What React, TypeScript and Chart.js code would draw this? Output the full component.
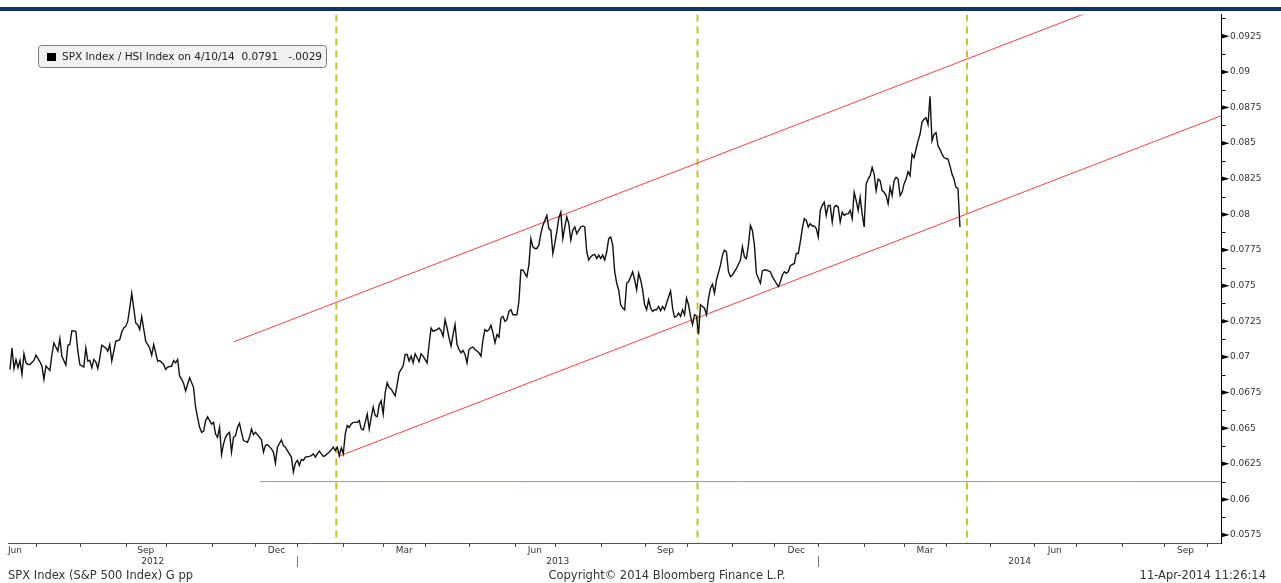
import React, { useEffect, useRef } from 'react';
import { Chart, registerables } from 'chart.js';

Chart.register(...registerables);

// Weekday index counted from Fri 1-Jun-2012 (index 0)
const dayIndex = [
  8, 9, 10, 11, 12, 13, 14, 15, 16, 17, 18, 20, 21, 23, 24, 25, 26, 28, 29, 30, 32, 33, 34, 36, 37, 38, 39, 41, 42, 43,
  45, 46, 47, 48, 49, 50, 51, 52, 53, 54, 56, 57, 58, 59, 61, 62, 63, 64, 65, 66, 67, 68, 69, 71, 72, 73, 74, 76, 77, 78,
  79, 80, 81, 82, 83, 85, 86, 87, 89, 90, 91, 92, 93, 94, 95, 96, 97, 98, 100, 101, 102, 103, 104, 105, 106, 107, 109, 110, 111, 112,
  113, 114, 115, 116, 117, 118, 119, 120, 121, 122, 123, 124, 125, 127, 128, 129, 130, 131, 132, 134, 135, 136, 137, 139, 140, 141, 142, 144, 145, 146,
  147, 148, 149, 150, 151, 152, 153, 154, 155, 156, 158, 159, 160, 161, 162, 163, 165, 166, 167, 168, 170, 171, 172, 173,
  174, 175, 176, 177, 178, 179, 180, 182, 183, 184, 185, 186, 187, 188, 189, 190, 191, 192, 193, 194, 195, 196, 197, 198, 199, 201,
  202, 203, 204, 205, 206, 207, 208, 209, 210, 211, 212, 213, 214, 215, 217, 218, 219, 220, 222, 223, 224, 225, 226, 227, 228, 229,
  230, 231, 232, 233, 234, 235, 236, 237, 238, 239, 240, 241, 243, 244, 245, 246, 247, 248, 249, 250, 251, 252, 253, 254, 255, 256,
  257, 258, 259, 260, 261, 262, 263, 264, 265, 266, 267, 268, 269, 270, 271, 272, 273, 274, 275, 277, 278, 279, 280, 281, 282, 283,
  284, 285, 286, 287, 288, 289, 290, 291, 292, 293, 294, 295, 296, 297, 298, 299, 300, 301, 302, 303, 304, 305, 306, 307, 308, 309,
  310, 311, 312, 313, 314, 315, 316, 317, 318, 319, 320, 321, 322, 323, 324, 325, 326, 327, 328, 329, 330, 331, 332, 333, 334, 335,
  336, 337, 339, 340, 341, 342, 343, 344, 345, 346, 347, 348, 349, 350, 351, 352, 353,
  354, 355, 356, 357, 358, 359, 360, 361, 362, 364, 365, 366, 367, 368, 369, 370, 372, 374, 375, 376, 377, 378, 379, 380, 381, 382,
  384, 385, 386, 387, 389, 390, 392, 393, 394, 395, 396, 397, 398, 399, 401, 402, 403, 404, 405, 406, 407, 408, 409, 410, 411, 412,
  413, 414, 415, 416, 417, 418, 419, 420, 421, 422, 423, 424, 425, 426, 427, 428, 429, 430, 431, 432, 433, 434, 435, 436, 437, 438,
  439, 440, 441, 442, 443, 444, 445, 446, 447, 448, 449, 450, 451, 452, 453, 454, 455, 456, 457, 458, 459, 460, 461, 462, 463, 464,
  465, 466, 467, 468, 469, 470, 471, 472, 473, 474, 475, 476, 477, 478, 479, 480, 481, 482, 483, 484,
];

// SPX Index / HSI Index ratio
const ratio = [
  0.06912, 0.07063, 0.06919, 0.06982, 0.06924, 0.06975, 0.06878, 0.07022, 0.06959, 0.06947, 0.06947, 0.06975, 0.07012, 0.06966, 0.06936, 0.06843, 0.06936, 0.06905, 0.07017, 0.07098, 0.0704, 0.07128, 0.07005, 0.06943, 0.07082, 0.07087, 0.07184, 0.0718, 0.0704, 0.06947,
  0.06929, 0.07063, 0.06971, 0.06975, 0.06924, 0.06982, 0.06966, 0.06919, 0.06994, 0.07082, 0.07063, 0.0704, 0.07087, 0.06971, 0.0711, 0.07115, 0.07121, 0.07175, 0.07203, 0.07214, 0.07249, 0.07342, 0.07447, 0.07238, 0.07226, 0.07191, 0.07284, 0.0711, 0.07087, 0.07063,
  0.07012, 0.07087, 0.07028, 0.06971, 0.06975, 0.06947, 0.06912, 0.06929, 0.06936, 0.06975, 0.06959, 0.06982, 0.06866, 0.06843, 0.06813, 0.06761, 0.06808, 0.06854, 0.06785, 0.06645, 0.06576, 0.06506, 0.06471, 0.06478, 0.06552, 0.0658, 0.06529, 0.06541, 0.06459, 0.06436,
  0.06506, 0.06315, 0.0639, 0.06436, 0.06459, 0.06471, 0.06332, 0.06436, 0.06448, 0.06506, 0.06534, 0.06471, 0.06413, 0.06401, 0.06436, 0.06494, 0.06455, 0.06471, 0.06455, 0.06418, 0.06332, 0.06378, 0.06385, 0.06355, 0.06332, 0.06255, 0.06367, 0.06418, 0.06378, 0.06367,
  0.06343, 0.0632, 0.06297, 0.06192, 0.06255, 0.06274, 0.06239, 0.06281, 0.06274, 0.06297, 0.06302, 0.06308, 0.0632, 0.06297, 0.0632, 0.06339, 0.06302, 0.06308, 0.0632, 0.06332, 0.06367, 0.06343, 0.06367, 0.06308,
  0.06362, 0.06321, 0.0646, 0.06518, 0.06506, 0.0653, 0.06541, 0.06541, 0.06553, 0.06495, 0.06488, 0.06541, 0.06599, 0.06495, 0.06576, 0.06646, 0.06588, 0.06581, 0.06664, 0.06692, 0.06599, 0.0675, 0.0682, 0.06785, 0.06774, 0.06727,
  0.06808, 0.0689, 0.06913, 0.06936, 0.07017, 0.07017, 0.06971, 0.07006, 0.06959, 0.07022, 0.06994, 0.06966, 0.07022, 0.07006, 0.06959, 0.07087, 0.07203, 0.0718, 0.07192, 0.07203, 0.07185, 0.07145, 0.07261, 0.07203, 0.07134, 0.07076,
  0.07157, 0.07227, 0.07087, 0.07052, 0.07029, 0.07045, 0.07017, 0.06959, 0.07052, 0.07064, 0.07069, 0.07052, 0.07029, 0.07006, 0.07122, 0.07192, 0.0718, 0.07192, 0.07222, 0.07168, 0.07099, 0.07157, 0.07138, 0.07273, 0.07285, 0.0725,
  0.07261, 0.07319, 0.07331, 0.07296, 0.07296, 0.07296, 0.07389, 0.0761, 0.0761, 0.07587, 0.07563, 0.07645, 0.0783, 0.07772, 0.07761, 0.07761, 0.07784, 0.07865, 0.07923, 0.07993, 0.079, 0.07889, 0.07726, 0.07796, 0.07877, 0.07975,
  0.08016, 0.0783, 0.07912, 0.07982, 0.07935, 0.07819, 0.07889, 0.07912, 0.07865, 0.07889, 0.07912, 0.07919, 0.07912, 0.07738, 0.0768, 0.07703, 0.07714, 0.07719, 0.07691, 0.07714, 0.07691, 0.07714, 0.0768, 0.07738, 0.0783, 0.07842,
  0.07784, 0.07598, 0.07517, 0.0747, 0.07366, 0.07343, 0.07331, 0.07517, 0.07529, 0.07563, 0.07598, 0.0754, 0.0747, 0.07587, 0.0754, 0.0747, 0.07366, 0.07331, 0.07401, 0.07343, 0.07319, 0.07331, 0.07331, 0.07354, 0.07324, 0.07354,
  0.07331, 0.07378, 0.07463, 0.07343, 0.07278, 0.07285, 0.07308, 0.07285, 0.07331, 0.07296, 0.07412, 0.07366, 0.07285, 0.07227, 0.07296, 0.07285, 0.07157,
  0.07366, 0.07354, 0.07342, 0.07296, 0.07412, 0.07482, 0.0751, 0.07447, 0.0754, 0.07644, 0.07714, 0.07749, 0.07737, 0.07598, 0.07563, 0.07575, 0.07621, 0.07679, 0.07772, 0.07702, 0.0769, 0.07784, 0.07923, 0.07888, 0.07784, 0.07586,
  0.07517, 0.07603, 0.0761, 0.0761, 0.07598, 0.07563, 0.07517, 0.07493, 0.07528, 0.07575, 0.07598, 0.07587, 0.07598, 0.0764, 0.07656, 0.07726, 0.07726, 0.07807, 0.079, 0.0797, 0.07958, 0.07912, 0.07935, 0.07919, 0.07919, 0.079,
  0.07842, 0.08028, 0.08063, 0.08086, 0.07993, 0.08063, 0.08063, 0.07946, 0.08051, 0.08063, 0.08051, 0.07946, 0.08016, 0.07993, 0.08004, 0.08004, 0.08028, 0.0797, 0.08155, 0.08097, 0.08028, 0.08121, 0.08004, 0.07912, 0.08214, 0.08248,
  0.08272, 0.0833, 0.08283, 0.08167, 0.08248, 0.08237, 0.08167, 0.08155, 0.08132, 0.08074, 0.0819, 0.08132, 0.08237, 0.0826, 0.08248, 0.08132, 0.08155, 0.08214, 0.08248, 0.083, 0.08272, 0.08423, 0.08399, 0.08457, 0.08516, 0.08562,
  0.08648, 0.08667, 0.08678, 0.08632, 0.08829, 0.08516, 0.08562, 0.08574, 0.08481, 0.08457, 0.08423, 0.08399, 0.08392, 0.08388, 0.08341, 0.08283, 0.08248, 0.0819, 0.08183, 0.07912,
];

// Trend channel (red), support (green), event markers (olive dashed)
const upperChannelDays = [120, 614.8];
const upperChannelValues = [0.07105, 0.09778];
const lowerChannelDays = [172.6, 614.8];
const lowerChannelValues = [0.06302, 0.08692];
const supportDays = [133.3, 614.8];
const supportValues = [0.06125, 0.06125];
const eventDays = [171.5, 352.5, 487.5];

const yTickValues = [0.0575, 0.06, 0.0625, 0.065, 0.0675, 0.07, 0.0725, 0.075, 0.0775, 0.08, 0.0825, 0.085, 0.0875, 0.09, 0.0925];
const monthNames = ['Jan', 'Feb', 'Mar', 'Apr', 'May', 'Jun', 'Jul', 'Aug', 'Sep', 'Oct', 'Nov', 'Dec'];
const labelledMonths = [2, 5, 8, 11];
const yearLabels = ['2012', '2013', '2014'];

const X_MIN = 7;
const X_MAX = 614.8;
const Y_MIN = 0.056943;
const Y_MAX = 0.094034;

const legendText = 'SPX Index / HSI Index on 4/10/14  0.0791   -.0029';
const footerLeft = 'SPX Index (S&P 500 Index) G pp';
const footerCenter = 'Copyright\u00A9 2014 Bloomberg Finance L.P.';
const footerRight = '11-Apr-2014 11:26:14';

const FONT = '"DejaVu Sans", Verdana, sans-serif';

const ORIGIN = Date.UTC(2012, 5, 1);
function weekdayIndex(y: number, m: number, d: number): number {
  let count = 0;
  const end = Date.UTC(y, m, d);
  for (let t = ORIGIN; t < end; t += 86400000) {
    const wd = new Date(t).getUTCDay();
    if (wd !== 0 && wd !== 6) count++;
  }
  return count;
}

type MonthInfo = { y: number; m: number; start: number; end: number };
const months: MonthInfo[] = [];
for (let k = 0; k < 29; k++) {
  const y = 2012 + Math.floor((5 + k) / 12);
  const m = (5 + k) % 12;
  const ny = 2012 + Math.floor((6 + k) / 12);
  const nm = (6 + k) % 12;
  months.push({ y, m, start: weekdayIndex(y, m, 1), end: weekdayIndex(ny, nm, 1) });
}
const labelMonthInfo = months.filter((mi) => labelledMonths.includes(mi.m) && (mi.start + mi.end) / 2 < X_MAX);
const labelTickValues = labelMonthInfo.map((mi) => (mi.start + mi.end) / 2);
const labelTickTexts = labelMonthInfo.map((mi) => monthNames[mi.m]);

const decorPlugin = {
  id: 'bbgDecor',
  beforeDraw(chart: any) {
    const ctx = chart.ctx;
    ctx.save();
    ctx.fillStyle = '#ffffff';
    ctx.fillRect(0, 0, chart.width, chart.height);
    ctx.fillStyle = '#0c3566';
    ctx.fillRect(0, 7, chart.width, 4);
    ctx.restore();
  },
  afterDraw(chart: any) {
    const ctx = chart.ctx;
    const xs = chart.scales.x;
    const ys = chart.scales.y;
    const area = chart.chartArea;
    ctx.save();

    // y-axis arrow ticks and minor ticks
    const ax = Math.round(area.right) + 0.5;
    ctx.fillStyle = '#000';
    ctx.strokeStyle = '#000';
    ctx.lineWidth = 1;
    yTickValues.forEach((v) => {
      const py = ys.getPixelForValue(v);
      ctx.beginPath();
      ctx.moveTo(ax - 0.5, py - 2.5);
      ctx.lineTo(ax + 8, py);
      ctx.lineTo(ax - 0.5, py + 2.5);
      ctx.closePath();
      ctx.fill();
      const minor = v + 0.00125;
      if (minor < Y_MAX) {
        const my = Math.round(ys.getPixelForValue(minor)) + 0.5;
        ctx.beginPath();
        ctx.moveTo(ax, my);
        ctx.lineTo(ax + 4, my);
        ctx.stroke();
      }
    });

    // x-axis month ticks
    const by = Math.round(area.bottom);
    ctx.strokeStyle = '#444';
    months.forEach((mi) => {
      if (mi.start > X_MIN && mi.start < X_MAX) {
        const px = Math.round(xs.getPixelForValue(mi.start)) + 0.5;
        ctx.beginPath();
        ctx.moveTo(px, by);
        ctx.lineTo(px, by + 4);
        ctx.stroke();
      }
    });

    // year labels and separators
    ctx.font = '9px ' + FONT;
    ctx.fillStyle = '#333';
    ctx.textAlign = 'center';
    ctx.textBaseline = 'middle';
    yearLabels.forEach((yl) => {
      const y = parseInt(yl, 10);
      const s = Math.max(X_MIN, weekdayIndex(y, 0, 1));
      const e = Math.min(X_MAX, weekdayIndex(y + 1, 0, 1));
      const cx = (xs.getPixelForValue(s) + xs.getPixelForValue(e)) / 2;
      ctx.fillText(yl, cx, 562);
      const sepIdx = weekdayIndex(y, 0, 1);
      if (sepIdx > X_MIN && sepIdx < X_MAX) {
        const px = Math.round(xs.getPixelForValue(sepIdx)) + 0.5;
        ctx.strokeStyle = '#777';
        ctx.beginPath();
        ctx.moveTo(px, 556);
        ctx.lineTo(px, 567);
        ctx.stroke();
      }
    });

    // footer
    ctx.font = '11.5px ' + FONT;
    ctx.fillStyle = '#333';
    ctx.textAlign = 'left';
    ctx.fillText(footerLeft, 8, 576);
    ctx.textAlign = 'center';
    ctx.fillText(footerCenter, 667, 576);
    ctx.textAlign = 'right';
    ctx.fillText(footerRight, 1266, 576);

    // legend box
    const lx = 38.5, ly = 45.5, lw = 288, lh = 22;
    ctx.beginPath();
    ctx.roundRect(lx, ly, lw, lh, 3);
    ctx.fillStyle = '#f1f1f1';
    ctx.fill();
    ctx.strokeStyle = '#7d7d7d';
    ctx.lineWidth = 1;
    ctx.stroke();
    ctx.fillStyle = '#000';
    ctx.fillRect(47, 53, 9, 8);
    ctx.font = '10.5px ' + FONT;
    ctx.fillStyle = '#222';
    ctx.textAlign = 'left';
    ctx.textBaseline = 'middle';
    ctx.fillText(legendText, 62, 57.5);

    ctx.restore();
  },
};

export default function App() {
  const canvasRef = useRef<HTMLCanvasElement | null>(null);

  useEffect(() => {
    if (!canvasRef.current) return;
    const series = dayIndex.map((d, i) => ({ x: d, y: ratio[i] }));
    const pair = (days: number[], vals: number[]) => days.map((d, i) => ({ x: d, y: vals[i] }));

    const datasets: any[] = [
      {
        label: 'SPX Index / HSI Index',
        data: series,
        borderColor: '#111111',
        borderWidth: 1.4,
        pointRadius: 0,
        tension: 0,
      },
      {
        label: 'Upper channel',
        data: pair(upperChannelDays, upperChannelValues),
        borderColor: '#ff3b3b',
        borderWidth: 1,
        pointRadius: 0,
      },
      {
        label: 'Lower channel',
        data: pair(lowerChannelDays, lowerChannelValues),
        borderColor: '#ff3b3b',
        borderWidth: 1,
        pointRadius: 0,
      },
      {
        label: 'Support',
        data: pair(supportDays, supportValues),
        borderColor: '#6cbf4a',
        borderWidth: 1,
        pointRadius: 0,
      },
      ...eventDays.map((d) => ({
        label: 'Event',
        data: [
          { x: d, y: Y_MAX },
          { x: d, y: Y_MIN },
        ],
        borderColor: '#c3c32a',
        borderWidth: 2,
        borderDash: [7, 5],
        pointRadius: 0,
      })),
    ];

    const chart = new Chart(canvasRef.current, {
      type: 'line',
      data: { datasets },
      options: {
        animation: false,
        responsive: true,
        maintainAspectRatio: false,
        layout: { padding: { left: 8, top: 11, right: 0, bottom: 0 } },
        plugins: { legend: { display: false }, tooltip: { enabled: false } },
        scales: {
          x: {
            type: 'linear',
            position: 'bottom',
            min: X_MIN,
            max: X_MAX,
            grid: { display: false, drawTicks: false },
            border: { display: true, color: '#555', width: 1 },
            afterBuildTicks: (s: any) => {
              s.ticks = labelTickValues.map((v) => ({ value: v }));
            },
            afterFit: (s: any) => {
              s.height = 40;
            },
            ticks: {
              autoSkip: false,
              maxRotation: 0,
              minRotation: 0,
              padding: 2,
              color: '#333',
              font: { family: FONT, size: 9 },
              callback: (_v: any, i: number) => labelTickTexts[i],
            },
          },
          y: {
            type: 'linear',
            position: 'right',
            min: Y_MIN,
            max: Y_MAX,
            grid: { display: false, drawTicks: false },
            border: { display: true, color: '#000', width: 1 },
            afterBuildTicks: (s: any) => {
              s.ticks = yTickValues.map((v) => ({ value: v }));
            },
            afterFit: (s: any) => {
              s.width = 60;
            },
            ticks: {
              padding: 9,
              color: '#333',
              font: { family: FONT, size: 9 },
              callback: (v: any) => parseFloat(Number(v).toFixed(4)).toString(),
            },
          },
        },
      },
      plugins: [decorPlugin],
    });
    return () => chart.destroy();
  }, []);

  return (
    <div style={{ position: 'fixed', left: 0, top: 0, width: 1281, height: 583, background: '#fff' }}>
      <canvas ref={canvasRef} />
    </div>
  );
}
